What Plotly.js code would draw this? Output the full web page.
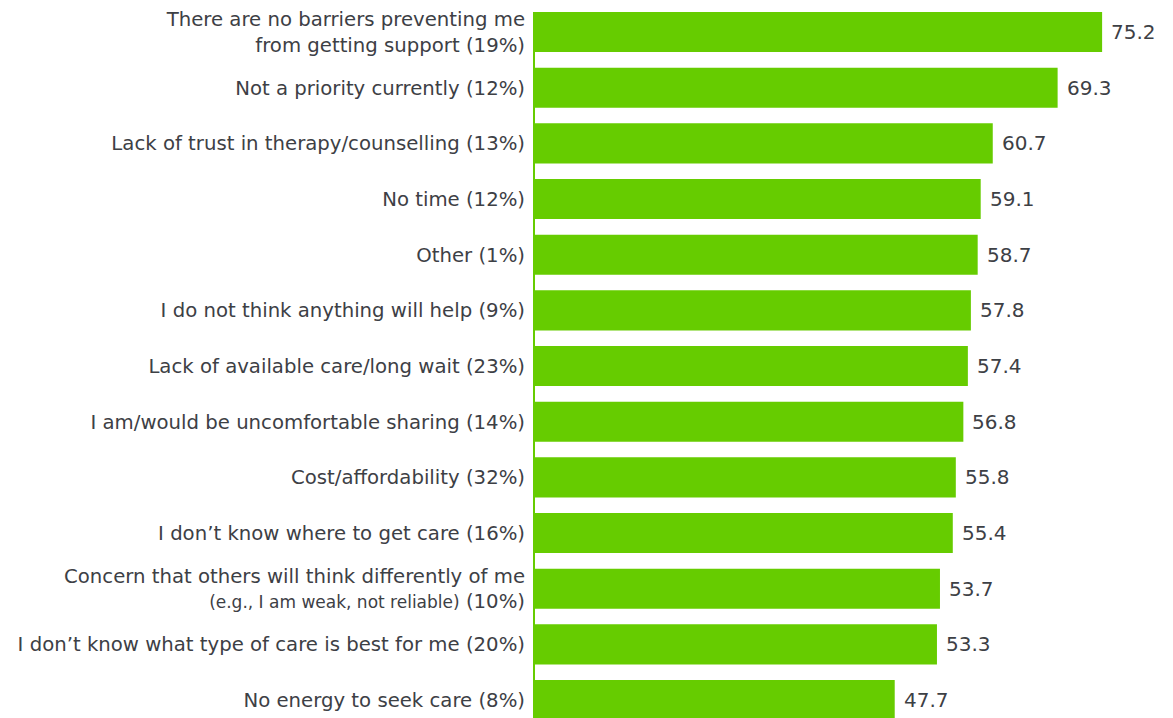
<!DOCTYPE html>
<html>
<head>
<meta charset="utf-8">
<script src="https://cdn.plot.ly/plotly-3.0.1.min.js"></script>
<style>html,body{margin:0;padding:0;background:#fff;}#chart{width:1173px;height:718px;}</style>
</head>
<body>
<div id="chart"></div>
<script>
const categories = [
  "There are no barriers preventing me<br>from getting support (19%)",
  "Not a priority currently (12%)",
  "Lack of trust in therapy/counselling (13%)",
  "No time (12%)",
  "Other (1%)",
  "I do not think anything will help (9%)",
  "Lack of available care/long wait (23%)",
  "I am/would be uncomfortable sharing (14%)",
  "Cost/affordability (32%)",
  "I don’t know where to get care (16%)",
  "Concern that others will think differently of me<br><span style=\"font-size:17px\">(e.g., I am weak, not reliable)</span> (10%)",
  "I don’t know what type of care is best for me (20%)",
  "No energy to seek care (8%)"
];
const values = [75.2, 69.3, 60.7, 59.1, 58.7, 57.8, 57.4, 56.8, 55.8, 55.4, 53.7, 53.3, 47.7];

const green = "#66CC00";
const textColor = "#3d4045";
const fontFam = "DejaVu Sans, sans-serif";

const trace = {
  type: "bar",
  orientation: "h",
  y: categories,
  x: values,
  marker: {color: green},
  hoverinfo: "x+y"
};

const annotations = values.map((v, i) => ({
  x: v, y: categories[i], xref: "x", yref: "y",
  text: v.toFixed(1), showarrow: false,
  xanchor: "left", xshift: 7,
  font: {family: fontFam, size: 20, color: textColor}
}));

const layout = {
  width: 1173, height: 718,
  margin: {l: 535, r: 0, t: 12, b: 0, pad: 0},
  paper_bgcolor: "#fff", plot_bgcolor: "#fff",
  showlegend: false,
  bargap: 0.28,
  font: {family: fontFam, size: 19.7, color: textColor},
  xaxis: {range: [0, 84.6], showgrid: false, zeroline: false, showticklabels: false, showline: false, fixedrange: true},
  yaxis: {
    type: "category",
    range: [12.323, -0.36],
    autorange: false,
    showgrid: false, zeroline: false,
    showline: true, linecolor: green, linewidth: 2,
    ticks: "", ticklabelstandoff: 4,
    tickfont: {family: fontFam, size: 19.7, color: textColor}
  },
  annotations: annotations
};

Plotly.newPlot("chart", [trace], layout, {displayModeBar: false, staticPlot: true});
</script>
</body>
</html>
